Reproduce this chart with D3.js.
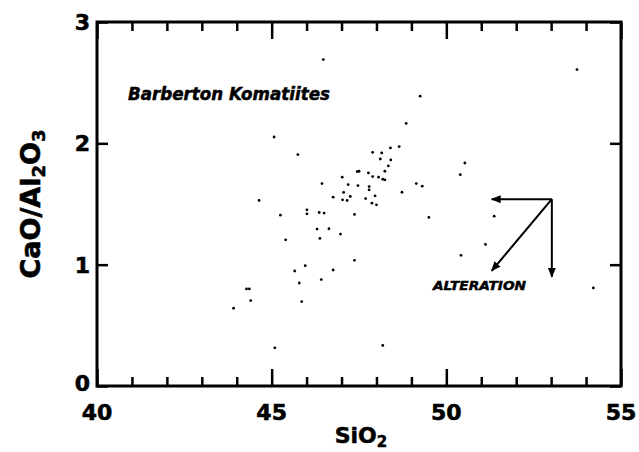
<!DOCTYPE html>
<html>
<head>
<meta charset="utf-8">
<script src="https://cdn.jsdelivr.net/npm/d3@7"></script>
<style>
  body { margin: 0; background: #fff; }
  text { font-family: "DejaVu Sans", "Liberation Sans", Arial, sans-serif; font-weight: bold; fill: #000; }
</style>
</head>
<body>
<div id="chart"></div>
<script>
// SiO2 (wt%) vs CaO/Al2O3, Barberton komatiites
var sio2 = [46.48, 53.74, 49.25, 48.85, 45.07, 45.75, 48.65, 48.40, 47.89, 48.15,
  48.11, 48.41, 48.34, 50.53, 50.40, 47.45, 47.50, 47.77, 48.24, 47.02,
  47.89, 48.06, 48.18, 48.24, 46.44, 47.19, 47.47, 47.79, 47.79, 49.14,
  49.31, 48.73, 47.06, 46.76, 47.25, 47.03, 47.16, 47.69, 47.96, 47.87,
  48.00, 44.64, 46.01, 46.01, 46.36, 46.50, 45.25, 47.37, 49.50, 51.37,
  46.30, 46.64, 46.97, 46.38, 45.40, 51.12, 50.42, 47.37, 45.96, 45.66,
  46.76, 46.42, 45.79, 44.28, 44.36, 44.40, 45.86, 43.91, 54.21, 45.09,
  48.18]
var caoAl2o3 = [2.690, 2.608, 2.389, 2.164, 2.052, 1.907, 1.973, 1.962, 1.926, 1.921,
  1.871, 1.863, 1.814, 1.838, 1.742, 1.767, 1.770, 1.756, 1.770, 1.721,
  1.726, 1.721, 1.704, 1.699, 1.668, 1.660, 1.652, 1.644, 1.617, 1.668,
  1.647, 1.597, 1.595, 1.556, 1.562, 1.534, 1.529, 1.545, 1.567, 1.507,
  1.493, 1.529, 1.452, 1.419, 1.430, 1.425, 1.408, 1.414, 1.389, 1.400,
  1.293, 1.296, 1.252, 1.216, 1.205, 1.167, 1.077, 1.036, 0.992, 0.948,
  0.956, 0.877, 0.849, 0.800, 0.800, 0.704, 0.696, 0.641, 0.808, 0.315,
  0.334]

var xMajor = [40, 45, 50, 55]
var xMinor = [41, 42, 43, 44, 46, 47, 48, 49, 51, 52, 53, 54]
var yMajor = [0, 1, 2, 3]

// alteration vectors (from, to) in data units
var arrowFrom = [53.02, 1.54]
var arrowTo = [[51.30, 1.54], [53.02, 0.90], [51.30, 0.95]]

var width = 639, height = 452
var x = d3.scaleLinear().domain([40, 55]).range([97, 621])
var y = d3.scaleLinear().domain([0, 3]).range([386, 22])

var svg = d3.select("#chart").append("svg")
  .attr("width", width)
  .attr("height", height)

var heavy = function(sel, w) { sel.attr("stroke", "#000").attr("stroke-width", w) }

// frame
svg.append("rect")
  .attr("x", x(40)).attr("y", y(3))
  .attr("width", x(55) - x(40)).attr("height", y(0) - y(3))
  .attr("fill", "none").attr("stroke", "#000").attr("stroke-width", 3)

// inward ticks on all four sides
function tickMarks(axis, tr, vals, size) {
  var g = svg.append("g").attr("transform", tr)
  g.call(axis.tickValues(vals).tickSize(-size).tickPadding(0))
  g.select(".domain").remove()
  g.selectAll(".tick text").remove()
  g.selectAll(".tick line").attr("stroke", "#000").attr("stroke-width", 2.5)
}
tickMarks(d3.axisBottom(x), "translate(0," + y(0) + ")", xMajor, 17)
tickMarks(d3.axisBottom(x), "translate(0," + y(0) + ")", xMinor, 9)
tickMarks(d3.axisTop(x), "translate(0," + y(3) + ")", xMajor, 17)
tickMarks(d3.axisTop(x), "translate(0," + y(3) + ")", xMinor, 9)
tickMarks(d3.axisLeft(y), "translate(" + x(40) + ",0)", yMajor, 11)
tickMarks(d3.axisRight(y), "translate(" + x(55) + ",0)", yMajor, 11)

// tick labels
svg.selectAll("text.xl").data(xMajor).enter().append("text")
  .attr("class", "xl")
  .attr("x", d => x(d)).attr("y", 420)
  .attr("text-anchor", "middle")
  .style("font-size", "22px")
  .call(heavy, 0.6)
  .text(d => d)

svg.selectAll("text.yl").data(yMajor).enter().append("text")
  .attr("class", "yl")
  .attr("x", 90).attr("y", d => y(d) + (d === 0 ? -3 : 0))
  .attr("dy", "0.36em")
  .attr("text-anchor", "end")
  .style("font-size", "22px")
  .call(heavy, 0.6)
  .text(d => d)

// axis titles
var xt = svg.append("text")
  .attr("x", (x(40) + x(55)) / 2 + 2).attr("y", 443)
  .attr("text-anchor", "middle")
  .style("font-size", "22px")
  .call(heavy, 0.5)
xt.append("tspan").text("SiO")
xt.append("tspan").attr("dy", 4).style("font-size", "15px").text("2")

var yt = svg.append("text")
  .attr("transform", "translate(40," + y(1.5) + ") rotate(-90)")
  .attr("text-anchor", "middle")
  .style("font-size", "27px")
  .call(heavy, 0.6)
yt.append("tspan").text("CaO/Al")
yt.append("tspan").attr("dy", 5).style("font-size", "18px").text("2")
yt.append("tspan").attr("dy", -5).text("O")
yt.append("tspan").attr("dy", 5).style("font-size", "18px").text("3")

// points
svg.append("g").selectAll("circle")
  .data(sio2.map((d, i) => [d, caoAl2o3[i]]))
  .enter().append("circle")
  .attr("cx", d => x(d[0])).attr("cy", d => y(d[1]))
  .attr("r", 1.4).attr("fill", "#000")

// annotations
svg.append("text")
  .attr("x", 128).attr("y", 100)
  .attr("textLength", 202).attr("lengthAdjust", "spacingAndGlyphs")
  .style("font-size", "17px").style("font-style", "italic")
  .call(heavy, 0.5)
  .text("Barberton Komatiites")

var marker = svg.append("defs").append("marker")
  .attr("id", "head")
  .attr("viewBox", "0 0 10 10")
  .attr("refX", 9).attr("refY", 5)
  .attr("markerWidth", 5).attr("markerHeight", 5)
  .attr("orient", "auto")
marker.append("path")
  .attr("d", "M0,1 L10,5 L0,9 Z")
  .attr("fill", "#000")

svg.append("g").selectAll("line")
  .data(arrowTo).enter().append("line")
  .attr("x1", x(arrowFrom[0])).attr("y1", y(arrowFrom[1]))
  .attr("x2", d => x(d[0])).attr("y2", d => y(d[1]))
  .attr("stroke", "#000").attr("stroke-width", 2)
  .attr("marker-end", "url(#head)")

svg.append("text")
  .attr("x", 433).attr("y", 290)
  .attr("textLength", 93).attr("lengthAdjust", "spacingAndGlyphs")
  .style("font-size", "13px").style("font-style", "italic")
  .call(heavy, 0.5)
  .text("ALTERATION")
</script>
</body>
</html>
